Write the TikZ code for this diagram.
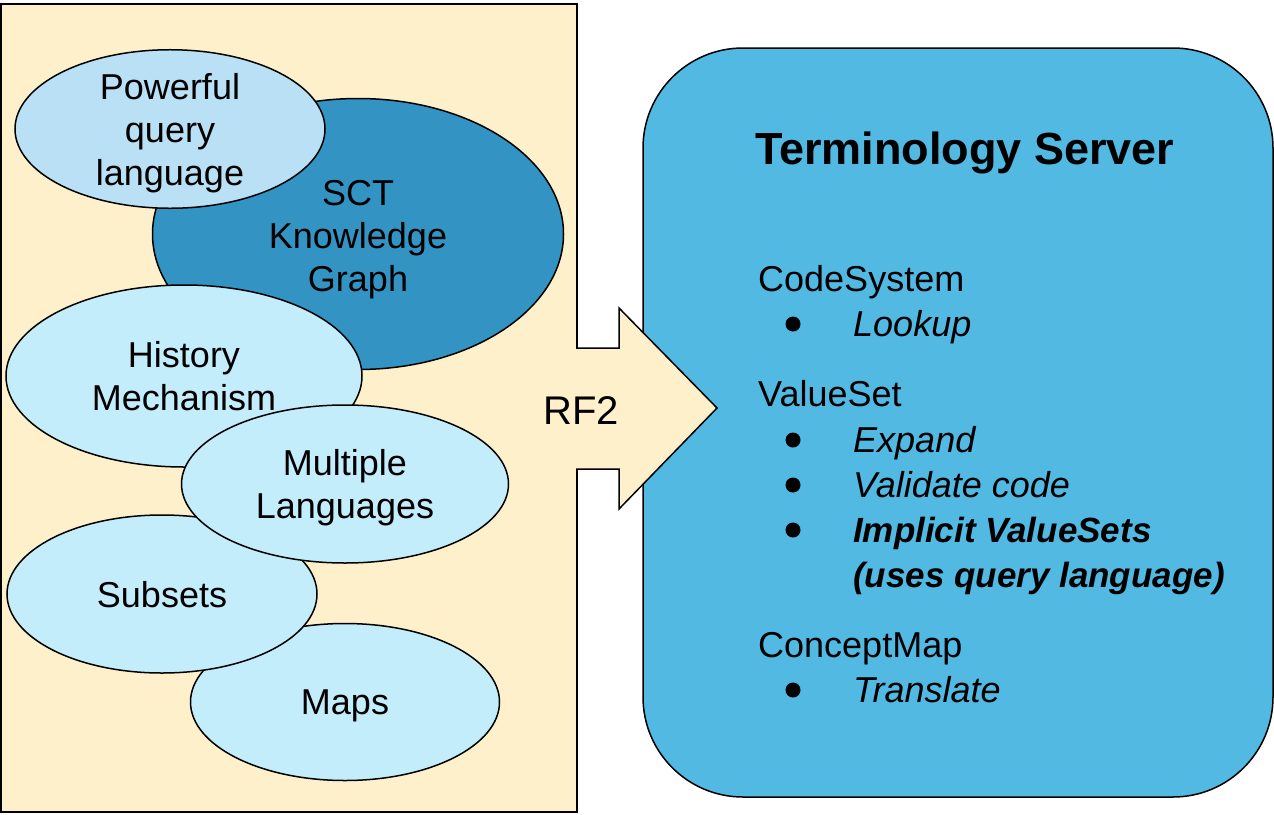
\documentclass[tikz,border=0pt]{standalone}
\usepackage{fontspec}
\setmainfont{Liberation Sans}
\usetikzlibrary{shapes.geometric}
\usetikzlibrary{positioning}
\definecolor{mbeige}{HTML}{FFF0CC}
\definecolor{mlight}{HTML}{C4EDFC}
\definecolor{mpale}{HTML}{B9E0F4}
\definecolor{mdark}{HTML}{3394C3}
\definecolor{mserver}{HTML}{52B9E3}
\tikzset{blob/.style = {ellipse, draw, line width = 1.5, fill = mlight, inner sep = 0,
    align = center, text depth = 0, font = \fontsize{36}{43}\selectfont}}
\tikzset{item/.style = {anchor = base west, inner sep = 0, font = \fontsize{36}{43}\selectfont}}
\tikzset{bul/.style = {fill, circle, inner sep = 0, minimum size = 15}}

\begin{document}
\begin{tikzpicture}[x = 1pt, y = -1pt]
    \useasboundingbox (0, 0) rectangle (1274, 814);

    \draw [fill = mbeige, line width = 1.5] (1, 4) rectangle (577, 812);

    \node [blob, fill = mdark, minimum width = 411, minimum height = 271] (sct) at (358, 234) {};
    \node [blob, fill = mpale, minimum width = 310, minimum height = 157] (query) at (170, 129) {Powerful\\query\\language};
    \node at (358, 236) [align = center, text depth = 0, font = \fontsize{36}{43}\selectfont] (scttext) {SCT\\Knowledge\\Graph};
    \node [blob, minimum width = 309, minimum height = 157] (maps) at (345, 702) {Maps};
    \node [blob, minimum width = 310, minimum height = 158] (subsets) at (162, 594) {Subsets};
    \node [blob, minimum width = 356, minimum height = 182] (history) at (184, 376) {History\\Mechanism};
    \node [blob, minimum width = 327, minimum height = 158] (multi) at (345, 484) {Multiple\\Languages};

    \draw [fill = mserver, line width = 1.5, rounded corners = 100] (643, 48) rectangle (1273, 797);

    \coordinate (sa) at (576, 348);
    \coordinate (sb) at (576, 469);
    \fill [mbeige] (sa) -- (619, 348) -- (619, 308) -- (717, 408) -- (619, 509) -- (619, 469) -- (sb) -- cycle;
    \draw [line width = 1.5, line join = miter] (sa) -- (619, 348) -- (619, 308) -- (717, 408) -- (619, 509) -- (619, 469) -- (sb);
    \node [font = \fontsize{40}{48}\selectfont] (rf) at (581, 411) {RF2};

    \node [item, font = \fontsize{45}{54}\bfseries] (title) at (755, 164) {Terminology Server};

    \node [item] (cs) at (758, 291) {CodeSystem};
    \node [bul] (b1) at (793, 324) {};
    \node [item] (lookup) at (853, 336) {\itshape Lookup};

    \node [item] (vs) at (758, 406) {ValueSet};
    \node [bul] (b2) at (793, 440) {};
    \node [item] (expand) at (853, 452) {\itshape Expand};
    \node [bul] (b3) at (793, 485) {};
    \node [item] (validate) at (853, 497) {\itshape Validate code};
    \node [bul] (b4) at (793, 530) {};
    \node [item, font = \fontsize{35}{42}\selectfont] (implicit) at (853, 542) {\bfseries\itshape Implicit ValueSets};
    \node [item, font = \fontsize{35}{42}\selectfont] (uses) at (853, 587) {\bfseries\itshape (uses query language)};

    \node [item] (cm) at (758, 657) {ConceptMap};
    \node [bul] (b5) at (793, 690) {};
    \node [item] (translate) at (853, 702) {\itshape Translate};
  \end{tikzpicture}
\end{document}
